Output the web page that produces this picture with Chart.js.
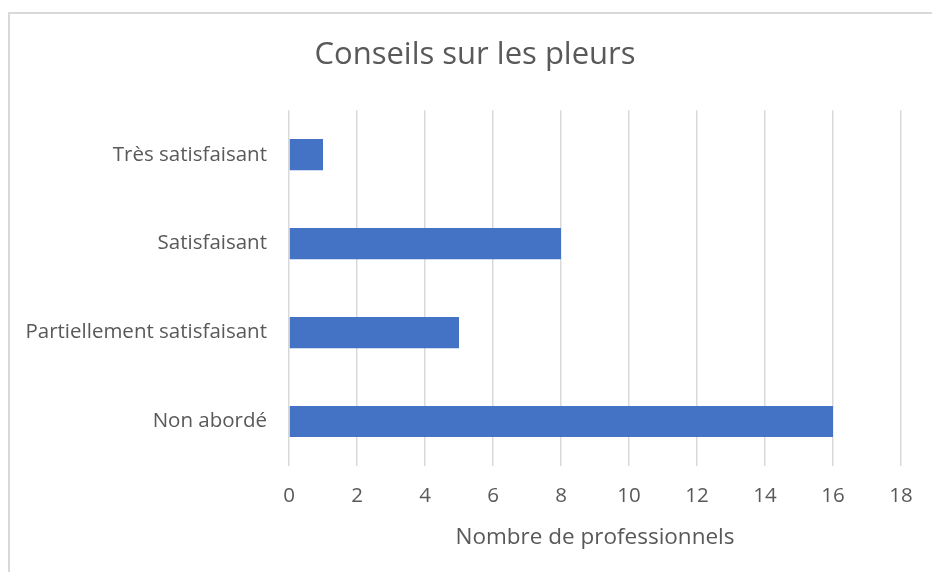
<!DOCTYPE html>
<html>
<head>
<meta charset="utf-8">
<script src="https://cdn.jsdelivr.net/npm/chart.js@4"></script>
<style>
  body { margin: 0; background: #fff; }
  #wrap { position: relative; width: 932px; height: 572px; overflow: hidden; }
  #frame { position: absolute; left: 8px; top: 12px; width: 960px; height: 600px;
           border-left: 2px solid #d9d9d9; border-top: 2px solid #d9d9d9; }
  canvas { position: absolute; left: 0; top: 0; }
</style>
</head>
<body>
<div id="wrap">
  <div id="frame"></div>
  <canvas id="myChart" width="932" height="572"></canvas>
</div>
<script>
var categories = ["Très satisfaisant", "Satisfaisant", "Partiellement satisfaisant", "Non abordé"];
var values = [1, 8, 5, 16];
var xTicks = [0, 2, 4, 6, 8, 10, 12, 14, 16, 18];

var textColor = "#595959";
var fontName = "'Open Sans', sans-serif";

const ctx = document.getElementById("myChart").getContext("2d");

const myChart = new Chart(ctx, {
  type: "bar",
  data: {
    labels: categories,
    datasets: [
      {
        data: values,
        backgroundColor: "#4472c4",
        categoryPercentage: 1,
        barPercentage: 0.35,
      },
    ],
  },
  options: {
    indexAxis: "y",
    responsive: false,
    animation: false,
    layout: { padding: { left: 18, right: 0, top: 0, bottom: 0 } },
    plugins: {
      legend: { display: false },
      tooltip: { enabled: false },
      title: {
        display: true,
        text: "Conseils sur les pleurs",
        color: textColor,
        font: { family: fontName, size: 31, weight: "normal" },
        padding: { top: 37, bottom: 36 },
      },
    },
    scales: {
      x: {
        min: 0,
        max: 18,
        afterBuildTicks: function (scale) {
          scale.ticks = xTicks.map(function (v) { return { value: v }; });
        },
        afterFit: function (scale) { scale.height = 106; },
        grid: { color: "#d9d9d9", lineWidth: 1.5, drawTicks: false },
        border: { display: false },
        ticks: {
          color: textColor,
          padding: 18,
          font: { family: fontName, size: 20.5 },
        },
        title: {
          display: true,
          text: "Nombre de professionnels",
          color: textColor,
          font: { family: fontName, size: 22.5 },
          padding: { top: 0, bottom: 21 },
        },
      },
      y: {
        afterFit: function (scale) { scale.width = 271; },
        grid: { display: false },
        border: { display: false },
        ticks: {
          color: textColor,
          padding: 14,
          font: { family: fontName, size: 20.5 },
        },
      },
      // empty right-hand box, only reserves the white margin on the right
      yRight: {
        type: "linear",
        position: "right",
        afterFit: function (scale) { scale.width = 31; },
        grid: { display: false },
        border: { display: false },
        ticks: { display: false },
      },
    },
  },
});
</script>
</body>
</html>
